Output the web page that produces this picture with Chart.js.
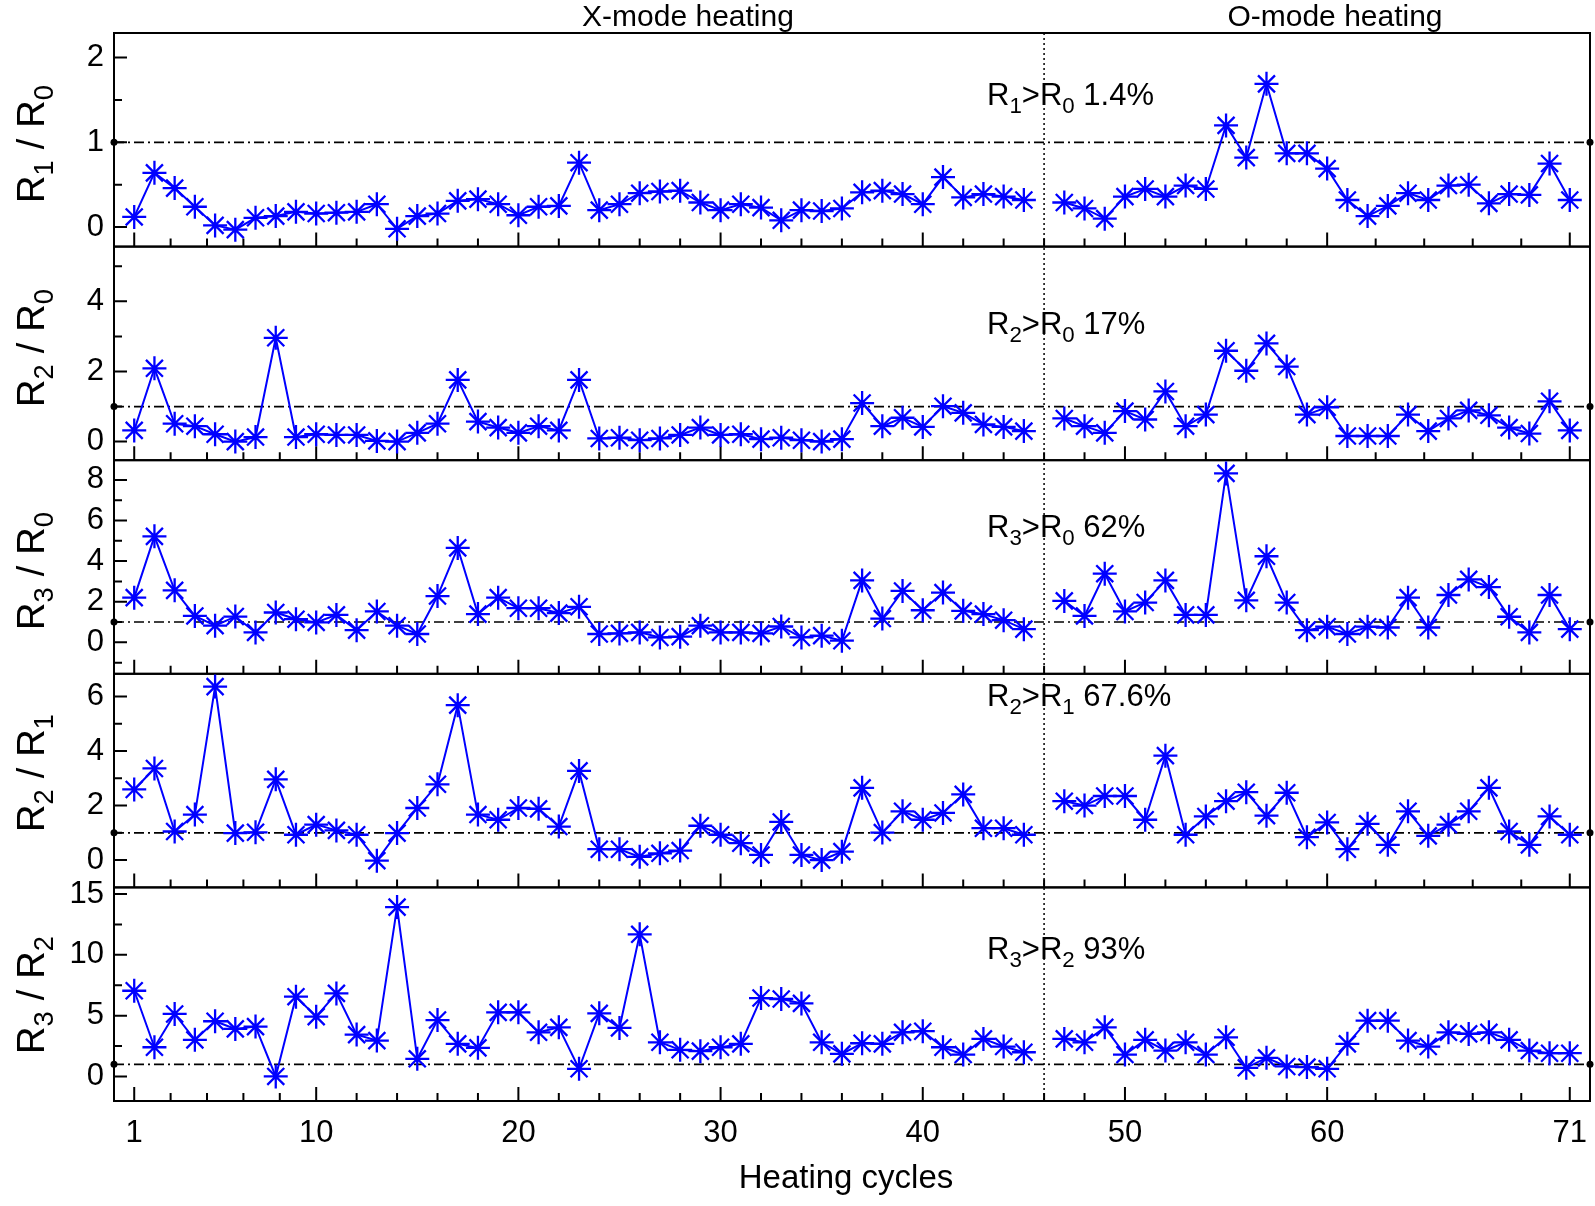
<!DOCTYPE html>
<html lang="en">
<head>
<meta charset="UTF-8">
<title>Resistance ratios vs heating cycles</title>
<style>
  body { margin: 0; background: #fff; }
  #wrap { position: relative; width: 1595px; height: 1206px; overflow: hidden; }
  #chart { position: absolute; left: 0; top: 0; }
  .txt { position: absolute; font-family: 'Liberation Sans', Arial, sans-serif; color: #000; white-space: nowrap; line-height: 1; }
  .txt sub { font-size: 72%; vertical-align: -0.34em; line-height: 0; }
  .ytitle { font-size: 38px; transform: translate(-50%, -50%) rotate(-90deg); }
  .ytitle .sl { margin: 0 11px; }
  .note { font-size: 31px; }
  .head { font-size: 30px; transform: translateX(-50%); }
  .xtitle { font-size: 33px; transform: translateX(-50%); }
</style>
</head>
<body>
<div id="wrap">
  <canvas id="chart" width="1595" height="1206"></canvas>
  <div class="txt head" style="left:688px; top:1px;">X-mode heating</div>
  <div class="txt head" style="left:1335px; top:1px;">O-mode heating</div>
  <div class="txt xtitle" style="left:846px; top:1160px;">Heating cycles</div>
  <div id="labels"></div>
</div>

<script src="https://cdn.jsdelivr.net/npm/chart.js"></script>
<script>
// x positions: cycles 1-45 (X-mode), gap at 46, then 47-72 (O-mode)
const cycles = [
  1, 2, 3, 4, 5, 6, 7, 8, 9, 10, 11, 12, 13, 14, 15, 16, 17, 18, 19, 20,
  21, 22, 23, 24, 25, 26, 27, 28, 29, 30, 31, 32, 33, 34, 35, 36, 37, 38, 39, 40,
  41, 42, 43, 44, 45, 46,
  47, 48, 49, 50, 51, 52, 53, 54, 55, 56, 57, 58, 59, 60,
  61, 62, 63, 64, 65, 66, 67, 68, 69, 70, 71, 72
];

const r1r0 = [
  0.12, 0.64, 0.46, 0.24, 0.02, -0.03, 0.11, 0.13, 0.18, 0.16, 0.17, 0.18, 0.27, -0.02, 0.13, 0.16, 0.31, 0.33, 0.27, 0.14,
  0.24, 0.25, 0.76, 0.20, 0.27, 0.40, 0.42, 0.43, 0.29, 0.20, 0.27, 0.23, 0.08, 0.20, 0.19, 0.22, 0.41, 0.43, 0.39, 0.27,
  0.59, 0.35, 0.39, 0.36, 0.32, null,
  0.29, 0.22, 0.10, 0.36, 0.45, 0.36, 0.49, 0.45, 1.20, 0.82, 1.69, 0.87, 0.87, 0.69,
  0.32, 0.13, 0.25, 0.40, 0.32, 0.49, 0.50, 0.28, 0.39, 0.38, 0.75, 0.32
];

const r2r0 = [
  0.32, 2.09, 0.51, 0.44, 0.21, 0.00, 0.13, 2.96, 0.13, 0.21, 0.19, 0.19, 0.02, 0.00, 0.25, 0.51, 1.76, 0.57, 0.40, 0.25,
  0.44, 0.32, 1.76, 0.09, 0.11, 0.04, 0.09, 0.19, 0.40, 0.19, 0.21, 0.07, 0.11, 0.04, 0.00, 0.07, 1.10, 0.44, 0.68, 0.42,
  1.01, 0.82, 0.49, 0.42, 0.30, null,
  0.66, 0.44, 0.25, 0.87, 0.63, 1.43, 0.44, 0.77, 2.59, 2.02, 2.80, 2.14, 0.77, 0.98,
  0.16, 0.16, 0.16, 0.77, 0.30, 0.66, 0.89, 0.75, 0.40, 0.23, 1.15, 0.32
];

const r3r0 = [
  2.20, 5.22, 2.56, 1.30, 0.82, 1.27, 0.49, 1.47, 1.14, 0.98, 1.35, 0.60, 1.52, 0.82, 0.41, 2.28, 4.65, 1.39, 2.20, 1.68,
  1.68, 1.44, 1.75, 0.41, 0.44, 0.49, 0.24, 0.28, 0.82, 0.49, 0.49, 0.44, 0.78, 0.24, 0.33, 0.08, 3.05, 1.17, 2.53, 1.58,
  2.45, 1.55, 1.39, 1.09, 0.65, null,
  2.04, 1.30, 3.38, 1.52, 1.96, 3.05, 1.35, 1.35, 8.32, 2.07, 4.24, 1.96, 0.60, 0.77,
  0.41, 0.77, 0.73, 2.20, 0.73, 2.33, 3.10, 2.72, 1.26, 0.49, 2.33, 0.65
];

const r2r1 = [
  2.59, 3.36, 1.05, 1.67, 6.36, 0.99, 1.02, 2.96, 0.93, 1.30, 1.09, 0.93, -0.02, 0.99, 1.91, 2.78, 5.68, 1.67, 1.48, 1.91,
  1.88, 1.23, 3.27, 0.40, 0.40, 0.12, 0.25, 0.35, 1.26, 0.93, 0.62, 0.19, 1.40, 0.19, 0.00, 0.31, 2.65, 1.01, 1.79, 1.48,
  1.73, 2.41, 1.17, 1.17, 0.93, null,
  2.16, 2.00, 2.35, 2.35, 1.48, 3.83, 0.93, 1.60, 2.16, 2.49, 1.63, 2.47, 0.84, 1.38,
  0.40, 1.33, 0.56, 1.79, 0.89, 1.30, 1.79, 2.65, 1.05, 0.56, 1.60, 0.93
];

const r3r2 = [
  7.05, 2.40, 5.14, 3.01, 4.54, 3.91, 4.10, 0.00, 6.56, 4.92, 6.83, 3.44, 2.95, 13.93, 1.45, 4.64, 2.68, 2.35, 5.27, 5.27,
  3.63, 4.04, 0.63, 5.19, 3.99, 11.69, 2.81, 2.19, 2.08, 2.40, 2.68, 6.45, 6.37, 6.01, 2.81, 1.86, 2.73, 2.68, 3.63, 3.72,
  2.40, 1.80, 3.09, 2.46, 1.99, null,
  3.09, 2.81, 4.04, 1.80, 3.01, 2.13, 2.81, 1.80, 3.22, 0.71, 1.53, 0.82, 0.77, 0.63,
  2.68, 4.59, 4.59, 2.95, 2.46, 3.63, 3.50, 3.63, 3.01, 2.13, 1.91, 1.91
];

const seriesList = [r1r0, r2r0, r3r0, r2r1, r3r2];

// axis settings
const xMin = 0, xMax = 73;
const xTickValues = [1, 10, 20, 30, 40, 50, 60, 72];
const xTickLabels = ['1', '10', '20', '30', '40', '50', '60', '71'];
const dividerX = 46;
const refLevel = 1;

const panelMin = [-0.23, -0.53, -1.55, -1.0, -2.02];
const panelMax = [2.29, 5.56, 8.97, 6.83, 15.55];
const panelMajorTicks = [[0, 1, 2], [0, 2, 4], [0, 2, 4, 6, 8], [0, 2, 4, 6], [0, 5, 10, 15]];
const panelMinorTicks = [[0.5, 1.5], [1, 3, 5], [-1, 1, 3, 5, 7], [1, 3, 5], [2.5, 7.5, 12.5]];

// labels: subscripts of the ratio, and the percentage note
const ratioNum = ['1', '2', '3', '2', '3'];
const ratioDen = ['0', '0', '0', '1', '2'];
const notePct = ['1.4%', '17%', '62%', '67.6%', '93%'];

const tickFont = { family: "'Liberation Sans Narrow', 'Arial Narrow', 'Liberation Sans', Arial, sans-serif", size: 31 };
const blue = '#0000ff';

const datasets = [];
seriesList.forEach((vals, i) => {
  datasets.push({
    data: cycles.map((c, k) => ({ x: c, y: vals[k] })),
    yAxisID: 'y' + i,
    borderColor: blue,
    backgroundColor: blue,
    borderWidth: 2,
    pointStyle: 'star',
    pointRadius: 12,
    pointBorderWidth: 2.3,
    pointBorderColor: blue,
    tension: 0,
    order: 1
  });
  datasets.push({
    data: [{ x: xMin, y: refLevel }, { x: xMax, y: refLevel }],
    yAxisID: 'y' + i,
    borderColor: '#000',
    borderWidth: 1.7,
    borderDash: [10, 4, 2, 4],
    pointRadius: 3.5,
    pointStyle: 'circle',
    pointBackgroundColor: '#000',
    pointBorderColor: '#000',
    pointBorderWidth: 0,
    clip: false,
    order: 2
  });
});

const scales = {
  x: {
    type: 'linear', position: 'bottom', min: xMin, max: xMax,
    afterBuildTicks: s => { s.ticks = xTickValues.map(v => ({ value: v })); },
    afterFit: s => { s.height = 105; s.paddingLeft = 0; s.paddingRight = 0; },
    grid: { display: false, drawTicks: false },
    border: { display: false },
    ticks: {
      autoSkip: false, maxRotation: 0, padding: 14, color: '#000', font: tickFont,
      callback: (v, idx) => xTickLabels[idx]
    }
  }
};
for (let i = 0; i < 5; i++) {
  scales['y' + i] = {
    type: 'linear', position: 'left', stack: 'panels', stackWeight: 1, weight: 5 - i,
    min: panelMin[i], max: panelMax[i],
    afterBuildTicks: s => { s.ticks = panelMajorTicks[i].map(v => ({ value: v })); },
    afterFit: s => { s.width = 114; s.paddingTop = 0; s.paddingBottom = 0; },
    grid: { display: false, drawTicks: false },
    border: { display: false },
    ticks: { autoSkip: false, padding: 10, color: '#000', font: tickFont, callback: v => String(v) }
  };
}

// frames, inward ticks and the X/O divider
const framePlugin = {
  id: 'frames',
  beforeDatasetsDraw(chart) {
    const ctx = chart.ctx;
    const xs = chart.scales.x;
    const area = chart.chartArea;
    const minorX = [];
    for (let k = 0; k < xTickValues.length - 1; k++) {
      const a = xTickValues[k], b = xTickValues[k + 1];
      for (let m = 1; m < 5; m++) minorX.push(a + (b - a) * m / 5);
    }
    ctx.save();
    ctx.strokeStyle = '#000';
    ctx.lineWidth = 2;
    for (let i = 0; i < 5; i++) {
      const ys = chart.scales['y' + i];
      ctx.strokeRect(area.left, ys.top, area.right - area.left, ys.bottom - ys.top);
      ctx.beginPath();
      xTickValues.forEach(v => {
        const px = xs.getPixelForValue(v);
        ctx.moveTo(px, ys.bottom); ctx.lineTo(px, ys.bottom - 14);
      });
      minorX.forEach(v => {
        const px = xs.getPixelForValue(v);
        ctx.moveTo(px, ys.bottom); ctx.lineTo(px, ys.bottom - 8);
      });
      panelMajorTicks[i].forEach(v => {
        const py = ys.getPixelForValue(v);
        ctx.moveTo(area.left, py); ctx.lineTo(area.left + 13, py);
      });
      panelMinorTicks[i].forEach(v => {
        const py = ys.getPixelForValue(v);
        ctx.moveTo(area.left, py); ctx.lineTo(area.left + 8, py);
      });
      ctx.stroke();
    }
    const xd = xs.getPixelForValue(dividerX);
    ctx.lineWidth = 1.5;
    ctx.setLineDash([2, 3]);
    ctx.beginPath();
    ctx.moveTo(xd, area.top); ctx.lineTo(xd, area.bottom);
    ctx.stroke();
    ctx.restore();
  }
};

const chart = new Chart(document.getElementById('chart'), {
  type: 'line',
  data: { datasets },
  options: {
    responsive: false,
    animation: false,
    devicePixelRatio: 1,
    layout: { autoPadding: false, padding: { left: 0, right: 5, top: 33, bottom: 0 } },
    plugins: { legend: { display: false }, tooltip: { enabled: false } },
    scales
  },
  plugins: [framePlugin]
});

// panel titles and notes, placed from the chart's own scales
const yTitleOffset = [4, -5, 4, -8, 1];
const noteCenter = [94, 323, 526, 695, 948];
const box = document.getElementById('labels');
for (let i = 0; i < 5; i++) {
  const ys = chart.scales['y' + i];
  const t = document.createElement('div');
  t.className = 'txt ytitle';
  t.style.left = '31px';
  t.style.top = ((ys.top + ys.bottom) / 2 + yTitleOffset[i]) + 'px';
  t.innerHTML = 'R<sub>' + ratioNum[i] + '</sub><span class="sl">/</span>R<sub>' + ratioDen[i] + '</sub>';
  box.appendChild(t);

  const n = document.createElement('div');
  n.className = 'txt note';
  n.style.left = '987px';
  n.style.top = (noteCenter[i] - 15) + 'px';
  n.innerHTML = 'R<sub>' + ratioNum[i] + '</sub>&gt;R<sub>' + ratioDen[i] + '</sub> ' + notePct[i];
  box.appendChild(n);
}
</script>
</body>
</html>
